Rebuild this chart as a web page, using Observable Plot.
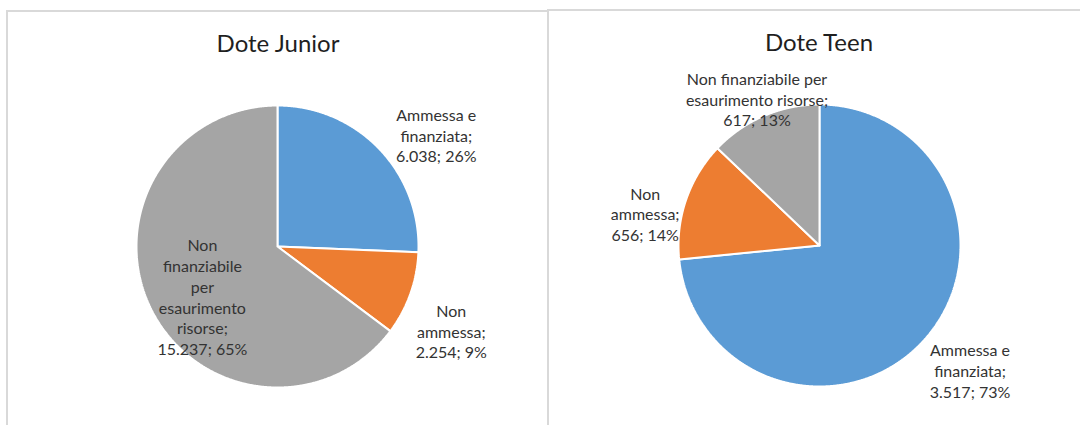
<!DOCTYPE html>
<html><head><meta charset="utf-8">
<script src="https://cdn.jsdelivr.net/npm/d3@7"></script>
<script src="https://cdn.jsdelivr.net/npm/@observablehq/plot@0.6"></script>
<style>
html,body{margin:0;padding:0;background:#fff;overflow:hidden;width:1080px;height:425px;}
.panel{position:absolute;border:2px solid #d9d9d9;border-bottom:none;box-sizing:border-box;overflow:hidden;background:#fff;}
#p1{left:6px;top:10px;width:543px;height:420px;}
#p2{left:547px;top:9px;width:545px;height:420px;}
svg{display:block;}
</style></head><body>
<div class="panel" id="p1"></div><div class="panel" id="p2"></div>
<script>
// ---- data ----
const categories = ["Ammessa e finanziata", "Non ammessa", "Non finanziabile per esaurimento risorse"];
const juniorValues = [6038, 2254, 15237];
const juniorPercents = [26, 9, 65];
const teenValues = [3517, 656, 617];
const teenPercents = [73, 14, 13];
const colors = ["#5B9BD5", "#ED7D31", "#A5A5A5"];
const titles = ["Dote Junior", "Dote Teen"];

// ---- layout (label wrapping and offsets) ----
const juniorLayout = {
  cx: 269, cy: 234,
  wraps: ["Ammessa e\nfinanziata;", "Non\nammessa;", "Non\nfinanziabile\nper\nesaurimento\nrisorse;"],
  offsets: [[57, -14], [41, 37], [51, -13]]
};
const teenLayout = {
  cx: 270, cy: 234,
  wraps: ["Ammessa e\nfinanziata;", "Non\nammessa;", "Non finanziabile per\nesaurimento risorse;"],
  offsets: [[46, 30], [-41, 14], [-7, -17]]
};

const it = d3.formatLocale({decimal: ",", thousands: ".", grouping: [3], currency: ["€", ""]});
const fmt = it.format(",d");

function drawPie(el, title, values, percents, layout) {
  const W = 539, H = 414, R = 141;
  const {cx, cy} = layout;
  const arcs = d3.pie().sort(null)(values);
  const pts = [];
  arcs.forEach((a, i) => {
    const cat = categories[i];
    pts.push({cat, x: 0, y: 0});
    const n = Math.max(4, Math.ceil((a.endAngle - a.startAngle) / (Math.PI / 720)));
    for (let k = 0; k <= n; k++) {
      const t = a.startAngle + (a.endAngle - a.startAngle) * k / n;
      pts.push({cat, x: Math.sin(t), y: Math.cos(t)});
    }
    pts.push({cat, x: 0, y: 0});
  });
  const labels = arcs.map((a, i) => {
    const m = (a.startAngle + a.endAngle) / 2;
    return {x: Math.sin(m), y: Math.cos(m), text: layout.wraps[i] + "\n" + fmt(values[i]) + "; " + percents[i] + "%"};
  });
  const plot = Plot.plot({
    width: W, height: H,
    margin: 0,
    style: {fontFamily: "Lato, 'Open Sans', sans-serif", background: "transparent"},
    x: {domain: [-cx / R, (W - cx) / R], range: [0, W], axis: null},
    y: {domain: [-(H - cy) / R, cy / R], range: [H, 0], axis: null},
    color: {domain: categories, range: colors},
    marks: [
      Plot.line(pts, {x: "x", y: "y", z: "cat", fill: "cat", stroke: "white", strokeWidth: 2, strokeLinejoin: "miter"}),
      ...labels.map((l, i) => Plot.text([l], {
        x: "x", y: "y", text: "text",
        dx: layout.offsets[i][0], dy: layout.offsets[i][1],
        fontSize: 16, lineHeight: 1.3, fill: "#333333", textAnchor: "middle"
      })),
      Plot.text([title], {frameAnchor: "top", lineAnchor: "top", dy: 22, text: d => d, fontSize: 24, fill: "#1f1f1f"})
    ]
  });
  el.appendChild(plot);
}

drawPie(document.getElementById("p1"), titles[0], juniorValues, juniorPercents, juniorLayout);
drawPie(document.getElementById("p2"), titles[1], teenValues, teenPercents, teenLayout);
</script>
</body></html>
